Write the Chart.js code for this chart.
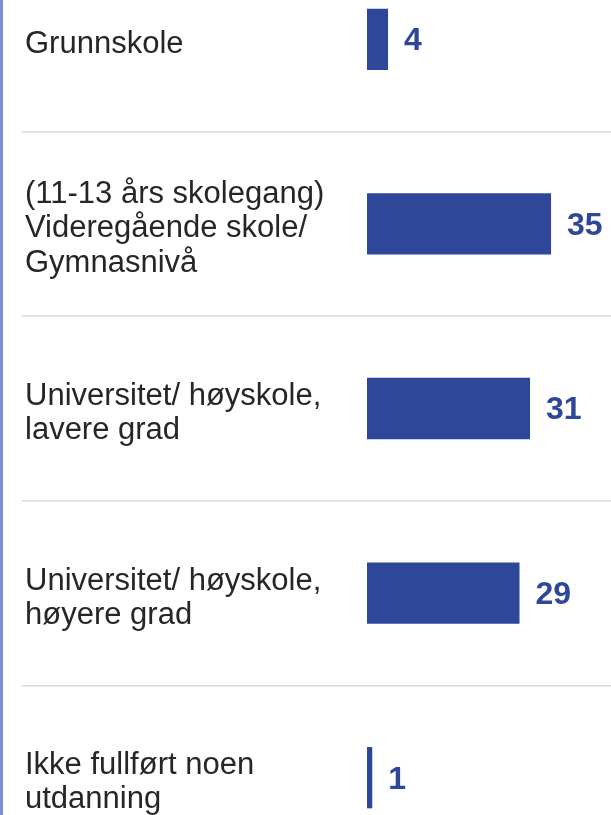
<!DOCTYPE html>
<html>
<head>
<meta charset="utf-8">
<script src="https://cdn.jsdelivr.net/npm/chart.js@4/dist/chart.umd.min.js"></script>
<style>
  html, body { margin: 0; padding: 0; background: #ffffff; }
  body { width: 611px; height: 815px; overflow: hidden; position: relative; }
  #frame { position: absolute; left: 0; top: 0; width: 608px; height: 815px; border-left: 3px solid #7b8edb; overflow: hidden; }
  #c { position: absolute; left: -3px; top: -53px; }
</style>
</head>
<body>
<div id="frame"><canvas id="c" width="611" height="923"></canvas></div>
<script>
const categories = [
  ["Grunnskole"],
  ["(11-13 års skolegang)", "Videregående skole/", "Gymnasnivå"],
  ["Universitet/ høyskole,", "lavere grad"],
  ["Universitet/ høyskole,", "høyere grad"],
  ["Ikke fullført noen", "utdanning"]
];
const values = [4, 35, 31, 29, 1];

const barColor = "#2f4799";

const valueLabels = {
  id: "valueLabels",
  afterDatasetsDraw(chart) {
    const ctx = chart.ctx;
    const meta = chart.getDatasetMeta(0);
    ctx.save();
    ctx.font = "bold 32px 'Liberation Sans', Arial, sans-serif";
    ctx.fillStyle = barColor;
    ctx.textAlign = "left";
    ctx.textBaseline = "middle";
    meta.data.forEach((bar, i) => {
      ctx.fillText(String(values[i]), bar.x + 16, bar.y + 2);
    });
    ctx.restore();
  }
};

// nudge category labels down a little to sit like the reference
const labelShift = {
  id: "labelShift",
  afterLayout(chart) {
    const s = chart.scales.y;
    if (s && !s._shifted) {
      const orig = s.drawLabels;
      s.drawLabels = function (ca) {
        const ctx = this.ctx;
        ctx.save();
        ctx.translate(0, 5);
        orig.call(this, ca);
        ctx.restore();
      };
      s._shifted = true;
    }
  }
};

new Chart(document.getElementById("c"), {
  type: "bar",
  data: {
    labels: categories,
    datasets: [{
      data: values,
      backgroundColor: barColor,
      borderWidth: 0,
      barPercentage: 0.332,
      categoryPercentage: 1
    }]
  },
  options: {
    indexAxis: "y",
    responsive: false,
    animation: false,
    layout: { padding: { left: 25, right: 0, top: 0, bottom: 0 } },
    plugins: { legend: { display: false }, tooltip: { enabled: false } },
    scales: {
      x: {
        display: false,
        min: 0,
        max: 46.4
      },
      y: {
        offset: true,
        border: { display: false },
        grid: {
          offset: true,
          color: "#d9d9d9",
          lineWidth: 1.5,
          drawTicks: true,
          tickLength: 345
        },
        ticks: {
          crossAlign: "far",
          color: "#262626",
          padding: 0,
          font: { family: "'Liberation Sans', Arial, sans-serif", size: 31, lineHeight: 1.1 }
        },
        afterFit(scale) {
          scale.width = 342;
          scale.paddingTop = 0;
          scale.paddingBottom = 0;
        }
      }
    }
  },
  plugins: [valueLabels, labelShift]
});
</script>
</body>
</html>
